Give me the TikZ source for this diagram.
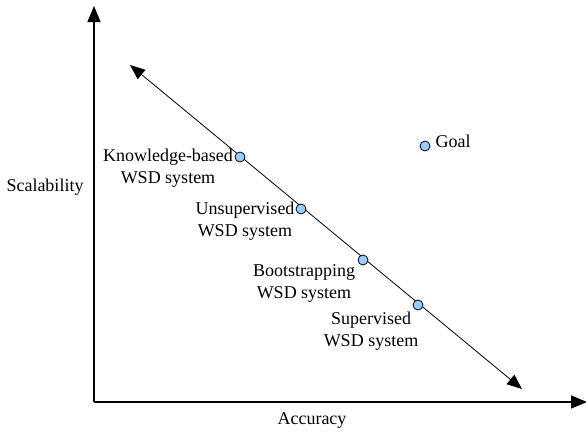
\documentclass[tikz,border=0pt]{standalone}
\usepackage{fontspec}
\setmainfont{Liberation Serif}
\usetikzlibrary{positioning,arrows.meta}
\definecolor{sysblue}{RGB}{153,204,255}

\begin{document}
\begin{tikzpicture}[x=1pt,y=-1pt,font=\fontsize{18}{22}\selectfont,
  axis/.style={line width=1.3pt,-{Triangle[length=16pt,width=13pt]}},
  sys/.style={circle,draw,fill=sysblue,minimum size=10pt,inner sep=0pt,line width=0.8pt},
  lbl/.style={align=center,inner sep=0pt}]
  \useasboundingbox (0,0) rectangle (586,431);
  % axes
  \coordinate (o) at (94,402);
  \coordinate (ytop) at (94,6);
  \coordinate (xend) at (587,402);
  \draw[axis] (o) -- (ytop);
  \draw[axis] (o) -- (xend);
  \node[lbl] (sc) at (45,187) {Scalability};
  \node[lbl] (acc) at (312,420) {Accuracy};
  % trade-off line
  \coordinate (tl) at (130,65);
  \coordinate (br) at (522,389);
  \draw[line width=0.8pt,{Triangle[length=15pt,width=12pt]}-{Triangle[length=15pt,width=12pt]}] (tl) -- (br);
  % systems on the line
  \node[sys] (kb) at (240,157) {};
  \node[sys] (us) at (301,209) {};
  \node[sys] (bs) at (363,260) {};
  \node[sys] (sv) at (418,305) {};
  \node[sys] (goal) at (425,146) {};
  \node[lbl] (kbl) at (168,168) {Knowledge-based\\WSD system};
  \node[lbl] (usl) at (245,221) {Unsupervised\\WSD system};
  \node[lbl] (bsl) at (304,283) {Bootstrapping\\WSD system};
  \node[lbl] (svl) at (371,331) {Supervised\\WSD system};
  \node[lbl,right=5pt of goal,yshift=5pt] (goall) {Goal};
\end{tikzpicture}
\end{document}
